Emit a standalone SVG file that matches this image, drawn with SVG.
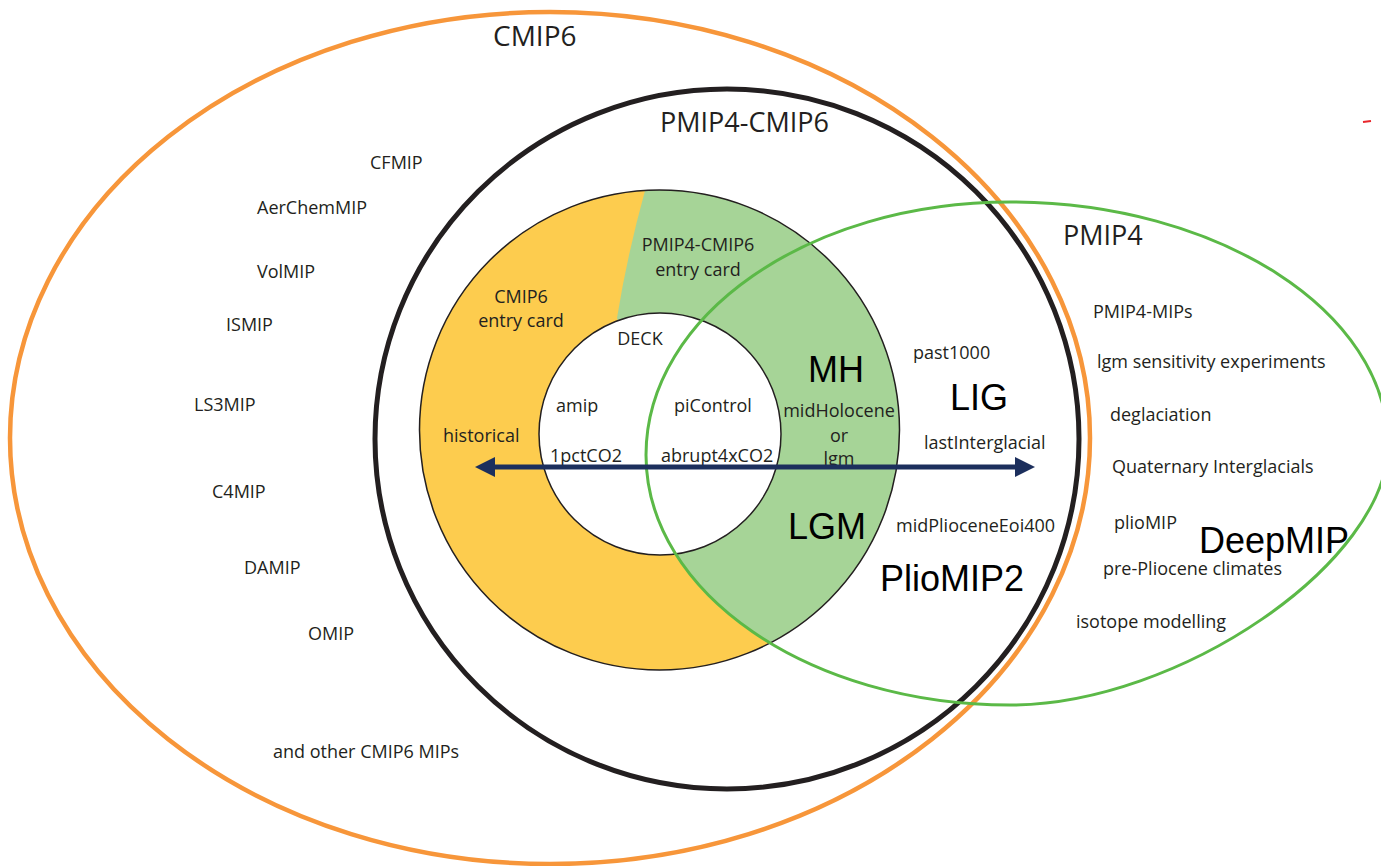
<svg xmlns="http://www.w3.org/2000/svg" width="1381" height="866" viewBox="0 0 1381 866">
<style>
.t{font-family:"Open Sans","Noto Sans","Liberation Sans",sans-serif;font-size:18px;fill:#231f20}
.big{font-family:"Open Sans","Noto Sans","Liberation Sans",sans-serif;fill:#231f20}
.a{font-family:"Liberation Sans",Arial,sans-serif;font-size:36px;fill:#000}
.m{text-anchor:middle}
</style>
<defs>
<clipPath id="ringClip"><circle cx="659.5" cy="430" r="240"/></clipPath>
<marker id="head" viewBox="0 0 20 20" refX="5" refY="10" markerWidth="20" markerHeight="20" markerUnits="userSpaceOnUse" orient="auto-start-reverse">
<path d="M0,0 L20,10 L0,20 Z" fill="#1c2f5d"/>
</marker>
</defs>
<rect width="1381" height="866" fill="#fff"/>

<g id="cmip6">
<ellipse cx="550" cy="438" rx="540" ry="426" fill="none" stroke="#f7963a" stroke-width="4.5"/>
<text class="big" x="493" y="46" font-size="28">CMIP6</text>
<text class="t" x="370" y="169">CFMIP</text>
<text class="t" x="257" y="214">AerChemMIP</text>
<text class="t" x="257" y="278">VolMIP</text>
<text class="t" x="226" y="331">ISMIP</text>
<text class="t" x="194" y="411">LS3MIP</text>
<text class="t" x="212" y="498">C4MIP</text>
<text class="t" x="244" y="574">DAMIP</text>
<text class="t" x="308" y="640">OMIP</text>
<text class="t" x="273" y="758">and other CMIP6 MIPs</text>
</g>

<g id="pmip4-cmip6">
<ellipse cx="727" cy="439" rx="352" ry="350" fill="none" stroke="#231f20" stroke-width="5"/>
<text class="big" x="660" y="132" font-size="27">PMIP4-CMIP6</text>
</g>

<g id="entry-ring">
<circle cx="659.5" cy="430" r="240" fill="#fdcc4e"/>
<g clip-path="url(#ringClip)" fill="#a6d497">
<path d="M648,180 Q628,250 617,318 L660,434 L1100,434 L1100,180 Z"/>
<path d="M646,455 C646,315 809,202 1010,202 C1217,202 1388,311 1388,445 C1388,562 1179,705 1010,705 C809,705 646,593 646,455 Z"/>
</g>
<circle cx="659.5" cy="430" r="240" fill="none" stroke="#231f20" stroke-width="1.5"/>
<circle cx="660" cy="434" r="121" fill="#fff" stroke="#231f20" stroke-width="1.5"/>
</g>

<g id="pmip4">
<path d="M646,455 C646,315 809,202 1010,202 C1217,202 1388,311 1388,445 C1388,562 1179,705 1010,705 C809,705 646,593 646,455 Z" fill="none" stroke="#5bb947" stroke-width="3"/>
<text class="big" x="1063" y="245" font-size="27">PMIP4</text>
<text class="t" x="1093" y="318">PMIP4-MIPs</text>
<text class="t" x="1097" y="368">lgm sensitivity experiments</text>
<text class="t" x="1110" y="421">deglaciation</text>
<text class="t" x="1112" y="473">Quaternary Interglacials</text>
<text class="t" x="1114" y="529">plioMIP</text>
<text class="t" x="1103" y="575">pre-Pliocene climates</text>
<text class="t" x="1076" y="628">isotope modelling</text>
<text class="a" x="1199" y="553" font-size="37">DeepMIP</text>
</g>

<g id="cmip6-entry-card">
<text class="t m" x="521" y="303">CMIP6</text>
<text class="t m" x="521" y="327">entry card</text>
<text class="t" x="443" y="442">historical</text>
</g>

<g id="pmip4-entry-card">
<text class="t m" x="698" y="251">PMIP4-CMIP6</text>
<text class="t m" x="698" y="276">entry card</text>
<text class="a" x="808" y="382" font-size="37">MH</text>
<text class="t m" x="839" y="417">midHolocene</text>
<text class="t m" x="839" y="442">or</text>
<text class="t m" x="839" y="465">lgm</text>
<text class="a" x="788" y="539">LGM</text>
</g>

<g id="deck">
<text class="t m" x="640" y="345">DECK</text>
<text class="t" x="556" y="412">amip</text>
<text class="t" x="674" y="412">piControl</text>
<text class="t" x="550" y="462">1pctCO2</text>
<text class="t" x="661" y="462">abrupt4xCO2</text>
</g>

<g id="tier2">
<text class="t" x="913" y="359">past1000</text>
<text class="a" x="950" y="410" font-size="38.5">LIG</text>
<text class="t" x="924" y="449">lastInterglacial</text>
<text class="t" x="896" y="532">midPlioceneEoi400</text>
<text class="a" x="880" y="591" font-size="38.5">PlioMIP2</text>
</g>

<g id="connectors">
<line x1="490" y1="467" x2="1020" y2="467" stroke="#1c2f5d" stroke-width="5" marker-start="url(#head)" marker-end="url(#head)"/>
</g>

<line x1="1363" y1="122" x2="1371" y2="121" stroke="#e8262b" stroke-width="2"/>
</svg>
